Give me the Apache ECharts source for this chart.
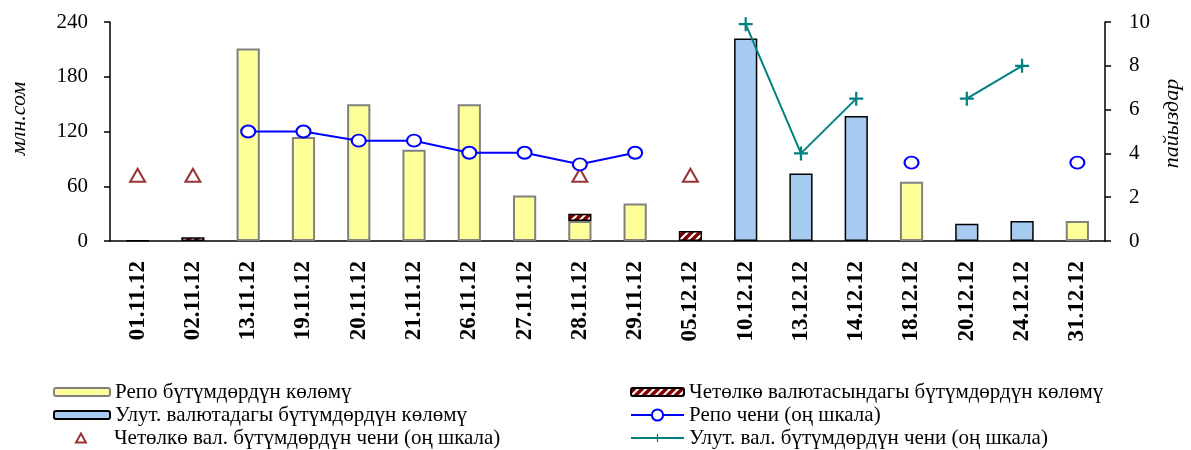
<!DOCTYPE html>
<html>
<head>
<meta charset="utf-8">
<script src="https://cdn.jsdelivr.net/npm/echarts@6/dist/echarts.min.js"></script>
<style>html,body{margin:0;padding:0;background:#fff;}#c{width:1191px;height:450px;}</style>
</head>
<body>
<div id="c"></div>
<script>
const categories = ['01.11.12','02.11.12','13.11.12','19.11.12','20.11.12','21.11.12','26.11.12','27.11.12','28.11.12','29.11.12','05.12.12','10.12.12','13.12.12','14.12.12','18.12.12','20.12.12','24.12.12','31.12.12'];
const repoVolume =     [null, null, 211, 114, 150, 100, 150, 50, 22, 41, null, null, null, null, 65, null, null, 22];
const foreignVolume =  [0.6, 4, null, null, null, null, null, null, 8, null, 11, null, null, null, null, null, null, null];
const nationalVolume = [null, null, null, null, null, null, null, null, null, null, null, 222, 74, 137, null, 19, 22, null];
const repoRate =       [null, null, 5.0, 5.0, 4.58, 4.58, 4.03, 4.03, 3.5, 4.03, null, null, null, null, 3.58, null, null, 3.58];
const foreignRate =    [3, 3, null, null, null, null, null, null, 3, null, 3, null, null, null, null, null, null, null];
const nationalRate =   [null, null, null, null, null, null, null, null, null, null, null, 9.9, 4.0, 6.5, null, 6.5, 8.0, null];
const leftTicks = [0, 60, 120, 180, 240];
const rightTicks = [0, 2, 4, 6, 8, 10];

const names = {
  repoV: 'Репо бүтүмдөрдүн көлөмү',
  forV: 'Четөлкө валютасындагы бүтүмдөрдүн көлөмү',
  natV: 'Улут. валютадагы бүтүмдөрдүн көлөмү',
  repoR: 'Репо чени (оң шкала)',
  forR: 'Четөлкө вал. бүтүмдөрдүн чени (оң шкала)',
  natR: 'Улут. вал. бүтүмдөрдүн чени (оң шкала)'
};

// hatch pattern
const pc = document.createElement('canvas');
pc.width = 8; pc.height = 8;
const g = pc.getContext('2d');
g.fillStyle = '#800000'; g.fillRect(0,0,8,8);
g.strokeStyle = '#ffffff'; g.lineWidth = 2;
g.beginPath();
g.moveTo(0,8); g.lineTo(8,0);
g.moveTo(-4,4); g.lineTo(4,-4);
g.moveTo(4,12); g.lineTo(12,4);
g.stroke();

const font = "'Liberation Serif', 'Times New Roman', serif";
const plus = 'path://M4.2,0H5.8V4.2H10V5.8H5.8V10H4.2V5.8H0V4.2H4.2Z';
const tri = 'path://M5.5,0L11,10L0,10Z';

const legendText = { fontSize: 21, fontFamily: font, color: '#000', lineHeight: 21 };
function leg(name, left, centerY, w, h) {
  return { orient: 'vertical', left: left, top: centerY - 10.5, padding: 0, itemWidth: w, itemHeight: h, itemGap: 0,
           textStyle: legendText, data: [name] };
}
const row = [392, 415, 438];

const chart = echarts.init(document.getElementById('c'));
chart.setOption({
  animation: false,
  textStyle: { fontFamily: font, color: '#000' },
  grid: { left: 109, right: 84, top: 22, bottom: 209 },
  xAxis: {
    type: 'category',
    data: categories,
    axisLine: { lineStyle: { color: '#000', width: 1.5 } },
    axisTick: { lineStyle: { color: '#000', width: 1.5 }, length: 6 },
    axisLabel: { rotate: 90, fontWeight: 'bold', fontSize: 23, color: '#000', fontFamily: font, margin: 20, interval: 0 }
  },
  yAxis: [{
    type: 'value', min: leftTicks[0], max: leftTicks[leftTicks.length-1], interval: 60,
    name: 'млн.сом', nameLocation: 'middle', nameRotate: 90, nameGap: 80,
    nameTextStyle: { fontStyle: 'italic', fontSize: 22, fontFamily: font, color: '#000', padding: [0, 0, 0, 26] },
    axisLine: { show: true, lineStyle: { color: '#000', width: 1.5 } },
    axisTick: { show: true, length: 6, lineStyle: { color: '#000', width: 1.5 } },
    axisLabel: { fontSize: 21, color: '#000', fontFamily: font, margin: 22 },
    splitLine: { show: false }
  }, {
    type: 'value', min: rightTicks[0], max: rightTicks[rightTicks.length-1], interval: 2, position: 'right',
    name: 'пайыздар', nameLocation: 'middle', nameRotate: 90, nameGap: 56,
    nameTextStyle: { fontStyle: 'italic', fontSize: 22, fontFamily: font, color: '#000', padding: [0, 0, 0, 16] },
    axisLine: { show: true, lineStyle: { color: '#000', width: 1.5 } },
    axisTick: { show: true, length: 6, lineStyle: { color: '#000', width: 1.5 } },
    axisLabel: { fontSize: 21, color: '#000', fontFamily: font, margin: 24 },
    splitLine: { show: false }
  }],
  legend: [
    leg(names.repoV, 53, row[0], 56, 8),
    leg(names.natV, 53, row[1], 56, 8),
    leg(names.forR, 75, row[2], 56, 9),
    leg(names.forV, 630, row[0], 53, 8),
    leg(names.repoR, 630, row[1], 53, 14),
    leg(names.natR, 630, row[2], 53, 10)
  ],
  series: [{
    name: names.repoV, type: 'bar', stack: 'v', data: repoVolume, barWidth: '42%',
    itemStyle: { color: '#FFFF99', borderColor: '#808080', borderWidth: 2 }
  }, {
    name: names.forV, type: 'bar', stack: 'v', data: foreignVolume, barWidth: '42%',
    itemStyle: { color: { image: pc, repeat: 'repeat' }, borderColor: '#000', borderWidth: 1.5 }
  }, {
    name: names.natV, type: 'bar', stack: 'v', data: nationalVolume, barWidth: '42%',
    itemStyle: { color: '#A6CAF0', borderColor: '#000', borderWidth: 1.5 }
  }, {
    name: names.repoR, type: 'line', yAxisIndex: 1, data: repoRate,
    symbol: 'circle', symbolSize: [14, 12], showAllSymbol: true, connectNulls: false,
    lineStyle: { color: '#0000FF', width: 2 },
    itemStyle: { color: '#fff', borderColor: '#0000FF', borderWidth: 2 }
  }, {
    name: names.forR, type: 'scatter', yAxisIndex: 1, data: foreignRate,
    symbol: tri, symbolSize: [15, 13], symbolKeepAspect: false,
    itemStyle: { color: '#fff', borderColor: '#800000', borderWidth: 2 }
  }, {
    name: names.natR, type: 'line', yAxisIndex: 1, data: nationalRate,
    symbol: plus, symbolSize: [14, 14], showAllSymbol: true, connectNulls: false,
    lineStyle: { color: '#008080', width: 2 },
    itemStyle: { color: '#008080' }
  }]
});
</script>
</body>
</html>
